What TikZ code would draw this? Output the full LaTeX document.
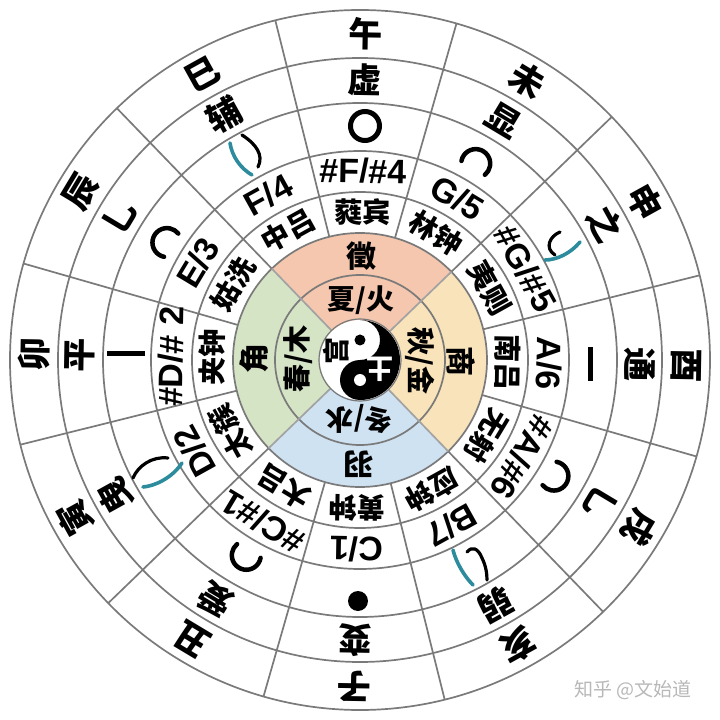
\documentclass[tikz,border=0pt]{standalone}
\usepackage{fontspec}
\newfontfamily\cjk{Noto Sans CJK SC}[BoldFont={Noto Sans CJK SC Black}]
\newfontfamily\lat{Liberation Sans}
\definecolor{lg}{HTML}{7A7A7A}
\definecolor{czhi}{HTML}{F4C7AE}
\definecolor{cshang}{HTML}{F8E3BA}
\definecolor{cyu}{HTML}{CFE2F2}
\definecolor{cjue}{HTML}{D6E4C6}
\definecolor{teal}{HTML}{2C8C9E}
\tikzset{
  ln/.style={draw=lg, line width=1.7},
  br/.style={font={\cjk\bfseries\fontsize{34}{34}\selectfont}, inner sep=0},
  nt/.style={font={\lat\bfseries\fontsize{34}{34}\selectfont}, inner sep=0},
  pt/.style={font={\cjk\bfseries\fontsize{28}{28}\selectfont}, inner sep=0},
  qd/.style={font={\cjk\bfseries\fontsize{30}{30}\selectfont}, inner sep=0},
  ss/.style={font={\cjk\bfseries\fontsize{28}{28}\selectfont}, inner sep=0},
  blk/.style={draw=black, line width=3.2, line cap=round},
  tl/.style={draw=teal, line width=3.6, line cap=round},
}
\def\ro{-1}
\newcommand\sect[5]{%
  \pgfmathsetmacro\ang{90-30*#1+\ro}
  \node[br, rotate=\ang-90] (a#1) at (\ang:326) {#2};
  \node[br, rotate=\ang-90] (b#1) at (\ang:280) {#3};
  \node[nt, rotate=\ang-90] (n#1) at (\ang:189) {#4};
  \node[pt, rotate=\ang-90] (p#1) at (\ang:148) {#5};
}
\begin{document}
\begin{tikzpicture}[x=1pt,y=1pt]
\useasboundingbox (-360,-360) rectangle (360,360);
\fill[white] (-360,-360) rectangle (360,360);
% colored quadrants
\fill[czhi] (0,0) -- ({45+\ro}:127) arc ({45+\ro}:{135+\ro}:127) -- cycle;
\fill[cjue] (0,0) -- ({135+\ro}:127) arc ({135+\ro}:{225+\ro}:127) -- cycle;
\fill[cyu] (0,0) -- ({225+\ro}:127) arc ({225+\ro}:{315+\ro}:127) -- cycle;
\fill[cshang] (0,0) -- ({-45+\ro}:127) arc ({-45+\ro}:{45+\ro}:127) -- cycle;
% circles
\foreach \r in {350,302,257,209,168,127,85} \draw[ln] (0,0) circle (\r);
% dividers
\foreach \k in {0,...,11} \draw[ln] ({\ro+15+30*\k}:127) -- ({\ro+15+30*\k}:350);
\foreach \k in {0,...,3} \draw[ln, draw=lg!70] ({\ro+45+90*\k}:41) -- ({\ro+45+90*\k}:127);
% yin-yang
\fill[white] (0,0) circle (40);
\fill[black] (0,40) arc (90:-90:40) arc (-90:-270:20) arc (-90:90:20) -- cycle;
\fill[black] (0,20) circle (5.5);
\fill[white] (0,-20) circle (6);
\draw[ln, line width=1.2] (0,0) circle (41);
\node[ss, font={\cjk\bfseries\fontsize{27}{27}\selectfont}, rotate=90] (gong) at (-24,9) {宫};
\node[ss, font={\cjk\bfseries\fontsize{27}{27}\selectfont}, text=white, rotate=180] (tu) at (20,-9) {土};
% seasons
\node[ss] (xia) at ({90+\ro}:60) {夏/火};
\node[ss, rotate=-90] (qiu) at ({0+\ro}:60) {秋/金};
\node[ss, rotate=180] (dong) at ({-90+\ro}:59) {冬/水};
\node[ss, rotate=90] (chun) at ({180+\ro}:62) {春/木};
% five tones
\node[qd] (zhi) at ({90+\ro}:104) {徵};
\node[qd, rotate=-90] (shang) at ({0+\ro}:101) {商};
\node[qd, rotate=180] (yu) at ({-90+\ro}:104) {羽};
\node[qd, rotate=90] (jue) at ({180+\ro}:106) {角};
% sectors
\sect{0}{午}{虚}{\#F/\#4}{蕤宾}
\sect{1}{未}{显}{G/5}{林钟}
\sect{2}{申}{之}{\#G/\#5}{夷则}
\sect{3}{酉}{通}{A/6}{南吕}
\sect{4}{戌}{乚}{\#A/\#6}{无射}
\sect{5}{亥}{弱}{B/7}{应钟}
\sect{6}{子}{变}{C/1}{黄钟}
\sect{7}{丑}{爱}{\#C/\#1}{大吕}
\sect{8}{寅}{曳}{D/2}{太簇}
\sect{9}{卯}{平}{\#D/\# 2}{夹钟}
\sect{10}{辰}{乚}{E/3}{姑洗}
\sect{11}{巳}{辅}{F/4}{中吕}
% symbols ring
\draw[line width=5] (5,234) circle (14.5);
\fill (-2,-241) circle (10);
\draw[line width=5] (230,-21) -- (230,13);
\draw[line width=5] (-253,6) -- (-215,6);
\foreach \a/\r in {59.4/230, -31/228, -120.3/228, 148.6/228}{
  \begin{scope}[shift={(\a:\r)}, rotate=\a-90]
    \draw[line width=4.5, line cap=round] (-14,-7) arc (200:-20:14.5);
  \end{scope}
}
% hooks (black brush stroke + teal swoosh)
\draw[tl] (-130,217) .. controls (-128,204) and (-120,192) .. (-108,185);
\draw[blk] (-118,225) .. controls (-104,216) and (-96,205) .. (-102,193);
\draw[tl] (220,118) .. controls (210,106) and (196,100) .. (185,100);
\draw[blk] (200,128) .. controls (190,124) and (184,112) .. (195,105);
\draw[tl] (93,-190) .. controls (96,-202) and (104,-216) .. (113,-225);
\draw[blk] (107,-192) .. controls (112,-186) and (118,-188) .. (122,-198) .. controls (126,-206) and (127,-214) .. (127,-220);
\draw[tl] (-217,-127) .. controls (-205,-126) and (-188,-118) .. (-178,-103);
\draw[blk] (-227,-118) .. controls (-222,-106) and (-208,-96) .. (-192,-98);
% watermark
\node[font={\cjk\fontsize{19}{19}\selectfont}, text=black!28, inner sep=0] (wm) at (273,-330) {知乎 @文始道};
\end{tikzpicture}
\end{document}
